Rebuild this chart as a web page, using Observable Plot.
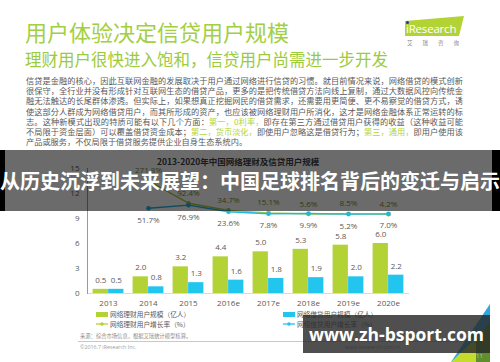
<!DOCTYPE html>
<html>
<head>
<meta charset="utf-8">
<script src="https://cdn.jsdelivr.net/npm/d3@7"></script>
<script src="https://cdn.jsdelivr.net/npm/@observablehq/plot@0.6"></script>
<style>
  html, body { margin: 0; padding: 0; background: #fff; }
  #page { position: relative; width: 500px; height: 362px; overflow: hidden; background: #fff;
          font-family: "Noto Sans CJK SC", "Noto Sans", sans-serif; }
  .abs { position: absolute; white-space: nowrap; }
  .para div { width: 437px; height: 10.2px; line-height: 10.2px; text-align: justify; text-align-last: justify;
              text-justify: inter-character; white-space: nowrap; }
  .para div.last { text-align-last: left; }
  .hl { color: #b6d433; }
  .leg { font-size: 6.7px; color: #595959; line-height: 10px; }
</style>
</head>
<body>
<div id="page">
  <div class="abs" style="left:25px;top:20px;font-size:22px;line-height:22px;color:#a3cf42;">用户体验决定信贷用户规模</div>
  <div class="abs" style="left:25px;top:51px;font-size:16.5px;line-height:16.5px;color:#9ccb3a;">理财用户很快进入饱和，信贷用户尚需进一步开发</div>

  <svg class="abs" style="left:0;top:0" width="500" height="60">
    <polygon points="405,21 464,16 459,36 405,36" fill="#b3d334"></polygon>
    <text x="406" y="32.5" font-family="Open Sans" font-size="11.5" fill="#fff" letter-spacing="-0.2">iResearch</text>
    <circle cx="407.5" cy="22.5" r="1.5" fill="#1f3a8a"></circle>
    <text x="407" y="45" font-family="Noto Sans CJK SC" font-size="5.5" fill="#8a8a8a" letter-spacing="10">艾瑞咨询</text>
  </svg>

  <div class="abs para" style="left:26px;top:75px;font-size:8.2px;color:#595959;">
    <div>信贷是金融的核心，因此互联网金融的发展取决于用户通过网络进行信贷的习惯。就目前情况来说，网络借贷的模式创新</div>
    <div>很保守，全行业并没有形成针对互联网生态的借贷产品，更多的是把传统借贷方法向线上复制，通过大数据风控向传统金</div>
    <div>融无法触达的长尾群体渗透。但实际上，如果想真正挖掘网民的借贷需求，还需要用更简便、更不易察觉的借贷方式，诱</div>
    <div>使这部分人群成为网络借贷用户，而其所形成的资产，也应该被网络理财用户所消化，这才是网络金融体系正常运转的标</div>
    <div>志。这种新模式出现的特质可能有以下几个方面：<span class="hl">第一，0利率，</span>即存在第三方通过借贷用户获得的收益（这种收益可能</div>
    <div>不局限于资金层面）可以覆盖借贷资金成本；<span class="hl">第二，货币淡化，</span>即使用户忽略这是借贷行为；<span class="hl">第三，通用，</span>即用户使用该</div>
    <div class="last">产品或服务，不仅局限于借贷服务提供企业自身生态系统内。</div>
  </div>

  <div class="abs" style="left:157px;top:155px;width:160px;text-align:center;font-size:8.5px;line-height:12px;font-weight:bold;color:#404040;">2013-2020年中国网络理财及信贷用户规模</div>

  <div id="chart" class="abs" style="left:0;top:150px;"></div>

  <!-- legend -->
  <div class="abs" style="left:96px;top:312px;width:12px;height:4.5px;background:#b3d235;"></div>
  <div class="abs leg" style="left:110px;top:309px;">网络理财用户规模（亿人）</div>
  <div class="abs" style="left:283px;top:312px;width:12px;height:4.5px;background:#22c5ee;"></div>
  <div class="abs leg" style="left:297px;top:309px;">网络借贷用户规模（亿人）</div>
  <svg class="abs" style="left:94px;top:320px" width="16" height="8">
    <line x1="2" y1="4" x2="14" y2="4" stroke="#b3d235" stroke-width="1.3"></line>
    <circle cx="8" cy="4" r="1.8" fill="#b3d235"></circle>
  </svg>
  <div class="abs leg" style="left:110px;top:319px;">网络理财用户增长率（%）</div>
  <svg class="abs" style="left:281px;top:320px" width="16" height="8">
    <line x1="2" y1="4" x2="14" y2="4" stroke="#22c5ee" stroke-width="1.3"></line>
    <circle cx="8" cy="4" r="1.8" fill="#22c5ee"></circle>
  </svg>
  <div class="abs leg" style="left:297px;top:319px;">网络信贷用户增长率（%）</div>

  <div class="abs" style="left:80px;top:333px;font-size:5.3px;line-height:7px;color:#8c8c8c;">来源：综合市场信息，根据艾瑞统计模型核算。</div>
  <div class="abs" style="left:78px;top:341px;width:385px;height:0.7px;background:#c8c8c8;"></div>
  <div class="abs" style="left:80px;top:344px;font-size:5.3px;line-height:7px;color:#a0a0a0;font-family:'Open Sans';">©2016.7 iResearch Inc.</div>
  <div class="abs" style="left:345px;top:344px;font-size:5.3px;line-height:7px;color:#a0a0a0;font-family:'Open Sans';">www.iresearch.com.cn</div>

  <!-- overlay banner -->
  <div class="abs" style="left:0;top:150px;width:500px;height:61px;background:rgba(0,0,0,0.58);"></div>
  <div class="abs" style="left:0;top:150px;width:5px;height:61px;background:#000;"></div>
  <div class="abs" style="left:492px;top:150px;width:8px;height:61px;background:#000;"></div>
  <div class="abs" style="left:0;top:168px;width:500px;text-align:center;font-size:20px;line-height:26px;font-weight:bold;color:#fff;">从历史沉浮到未来展望：中国足球排名背后的变迁与启示</div>

  <!-- bottom-right decoration -->
  <svg class="abs" style="left:0;top:0" width="500" height="362">
    <polygon points="490,304 490,362 451,362" fill="#2fa6dc"></polygon>
    <polygon points="490,322 490,362 462,362" fill="#5e8f2a"></polygon>
    <polygon points="476,338 476,362 451,362" fill="#c3dc2e"></polygon>
  </svg>
  <div class="abs" style="left:303px;top:315px;width:187px;height:38px;background:rgba(40,40,40,0.82);"></div>
  <div class="abs" style="left:303px;top:315px;width:187px;height:38px;line-height:38px;text-align:center;font-family:'Open Sans';font-weight:bold;font-size:17.5px;color:#fff;">www.zh-bsport.com</div>
  <div class="abs" style="left:476px;top:352px;font-size:6px;line-height:8px;color:#b8c8a0;font-family:'Open Sans';">11</div>
</div>

<script>
// ---- data ----
const years = ["2013", "2014", "2015", "2016e", "2017e", "2018e", "2019e", "2020e"];
const wealthUsers = [0.5, 2.0, 3.2, 4.4, 5.0, 5.3, 5.8, 6.0];      // 网络理财用户规模（亿人）
const loanUsers   = [0.5, 0.8, 1.3, 1.6, 1.8, 1.9, 2.0, 2.2];      // 网络借贷用户规模（亿人）
const rateYears   = ["2014", "2015", "2016e", "2017e", "2018e", "2019e", "2020e"];
const wealthGrowth = [271.8, 92.4, 34.7, 15.1, 5.6, 8.5, 4.2];     // 网络理财用户增长率（%）
const loanGrowth   = [51.7, 76.9, 23.6, 7.8, 9.9, 5.2, 7.0];       // 网络信贷用户增长率（%）
const yTicks = [0, 3, 6, 9, 12, 15];
const yDomain = [0, 15];
const rateAxis = [-630, 370];   // hidden secondary axis (%), mapped onto the 0–15 axis

const green = "#b3d235", blue = "#22c5ee", greenLine = "#aacb3a", blueLine = "#1fb6e0";

const wealth = years.map((y, i) => ({year: y, value: wealthUsers[i]}));
const loan = years.map((y, i) => ({year: y, value: loanUsers[i]}));
const toPrimary = d3.scaleLinear().domain(rateAxis).range(yDomain);
const wRate = rateYears.map((y, i) => ({year: y, rate: wealthGrowth[i], v: toPrimary(wealthGrowth[i])}));
const lRate = rateYears.map((y, i) => ({year: y, rate: loanGrowth[i], v: toPrimary(loanGrowth[i])}));

const chart = Plot.plot({
  width: 500,
  height: 160,
  marginTop: 18,
  marginBottom: 17,
  marginLeft: 87,
  marginRight: 91,
  style: {fontFamily: "'Open Sans', 'Noto Sans CJK SC', sans-serif", fontSize: "8px", color: "#595959", background: "transparent"},
  x: {domain: years, padding: 0, label: null},
  y: {domain: yDomain, label: null},
  marks: [
    Plot.ruleY([0], {stroke: "#d9d9d9"}),
    Plot.frame({anchor: "left", stroke: "#9a9a9a"}),
    Plot.axisY({ticks: yTicks, tickSize: 0, tickPadding: 8, label: null}),
    Plot.axisX({tickSize: 0, tickPadding: 7, label: null}),
    Plot.barY(wealth, {x: "year", y: "value", fill: green, insetLeft: 4.6, insetRight: 20.1}),
    Plot.barY(loan, {x: "year", y: "value", fill: blue, insetLeft: 20.1, insetRight: 4.6}),
    Plot.text(wealth, {x: "year", y: "value", text: d => d.value.toFixed(1), dx: -7.75, dy: -9, fill: "#595959"}),
    Plot.text(loan, {x: "year", y: "value", text: d => d.value.toFixed(1), dx: 7.75, dy: -9, fill: "#595959"}),
    Plot.line(wRate, {x: "year", y: "v", stroke: greenLine, strokeWidth: 1.4}),
    Plot.dot(wRate, {x: "year", y: "v", fill: greenLine, r: 2.3}),
    Plot.line(lRate, {x: "year", y: "v", stroke: blueLine, strokeWidth: 1.4}),
    Plot.dot(lRate, {x: "year", y: "v", fill: blueLine, r: 2.3}),
    Plot.text(wRate, {x: "year", y: "v", text: d => d.rate.toFixed(1) + "%", dy: -10, fill: "#7a8a30"}),
    Plot.text(lRate, {x: "year", y: "v", text: d => d.rate.toFixed(1) + "%", dy: 12, fill: "#595959"})
  ]
});
document.getElementById("chart").appendChild(chart);
</script>
</body>
</html>
